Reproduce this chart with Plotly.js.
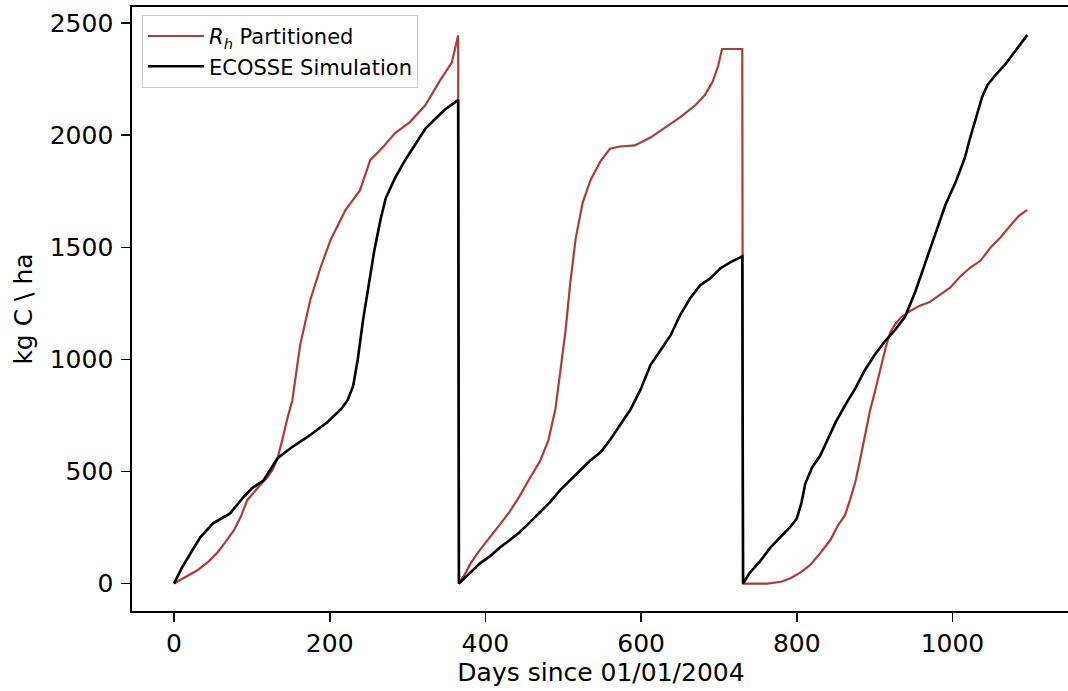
<!DOCTYPE html>
<html>
<head>
<meta charset="utf-8">
<script src="https://cdn.plot.ly/plotly-3.0.1.min.js"></script>
<style>
html,body{margin:0;padding:0;overflow:hidden;background:#fff;}
#chart{width:1072px;height:691px;}
</style>
</head>
<body>
<div id="chart"></div>
<script>
// R_h Partitioned (cumulative, resets each year)
const rhDays = [0,15,30,45,56,66,77,86,94,107,120,127,133,139,145,152,162,175,188,201,220,239,252,265,284,303,323,342,357,365,
  366,375,381,393,406,419,431,444,457,470,481,490,496,503,509,516,525,535,548,560,573,592,612,631,650,670,682,692,699,704,730,
  731,762,780,792,805,817,830,843,853,862,869,875,880,885,890,894,900,907,914,920,926,933,945,958,970,997,1010,1023,1036,1049,1062,1075,1085,1096];
const rhValues = [0,30,59,100,140,185,238,300,372,425,474,510,559,640,729,818,1064,1265,1408,1532,1665,1755,1889,1934,2010,2059,2135,2246,2326,2447,
  0,50,90,150,210,265,320,390,470,545,640,780,940,1130,1340,1540,1700,1800,1885,1940,1950,1955,1990,2035,2080,2135,2180,2240,2310,2385,2385,
  0,0,8,24,50,82,135,193,260,305,380,450,530,615,700,770,850,950,1050,1120,1155,1185,1215,1240,1255,1320,1370,1410,1440,1500,1545,1600,1640,1667];

// ECOSSE Simulation
const ecDays = [0,10,21,34,50,60,72,89,100,115,133,150,171,197,215,223,230,236,243,250,257,265,272,284,297,310,323,336,348,365,
  366,381,393,406,419,431,444,457,470,483,496,509,522,535,548,560,573,586,599,612,625,638,650,663,676,689,702,715,730,
  731,740,753,766,781,791,800,806,811,820,830,850,862,875,888,900,913,926,939,952,965,978,991,1004,1016,1022,1030,1038,1045,1055,1067,1080,1090,1096];
const ecValues = [0,70,134,207,269,290,313,385,425,461,559,605,653,720,780,818,880,1000,1180,1330,1480,1620,1720,1810,1890,1960,2030,2075,2115,2157,
  0,50,90,122,162,193,229,273,318,363,417,461,506,550,586,640,707,774,863,975,1041,1108,1197,1273,1331,1362,1407,1434,1460,
  0,50,100,160,215,250,290,360,446,520,570,720,795,870,955,1020,1080,1130,1190,1300,1430,1560,1690,1790,1900,1980,2080,2170,2225,2268,2313,2371,2420,2447];

const seriesNames = ['<i>R</i><sub><i>h</i></sub> Partitioned', 'ECOSSE Simulation'];
const xTicks = [0,200,400,600,800,1000];
const yTicks = [0,500,1000,1500,2000,2500];

const FONT = 'DejaVu Sans, sans-serif';
const traces = [
  {x: rhDays, y: rhValues, mode: 'lines', name: seriesNames[0],
   line: {color: '#a83e38', width: 2.2}},
  {x: ecDays, y: ecValues, mode: 'lines', name: seriesNames[1],
   line: {color: '#000000', width: 2.6}}
];

const layout = {
  width: 1072, height: 691,
  margin: {l: 132, r: 2, t: 7, b: 80},
  paper_bgcolor: '#ffffff', plot_bgcolor: '#ffffff',
  font: {family: FONT, size: 25, color: '#000'},
  showlegend: true,
  legend: {
    x: 0.0107, y: 0.987, xanchor: 'left', yanchor: 'top',
    bgcolor: 'rgba(255,255,255,0.8)', bordercolor: '#cccccc', borderwidth: 1,
    font: {family: FONT, size: 21, color: '#000'},
    itemwidth: 56,
    tracegroupgap: 0
  },
  xaxis: {
    range: [-54, 1151], tickvals: xTicks, ticktext: xTicks.map(String),
    showgrid: false, zeroline: false,
    showline: true, linecolor: '#000', linewidth: 1.7, mirror: true,
    ticks: 'outside', ticklen: 9, tickwidth: 1.7, tickcolor: '#000',
    ticklabelstandoff: 0,
    tickfont: {family: FONT, size: 25, color: '#000'},
    title: {text: 'Days since 01/01/2004', font: {family: FONT, size: 25, color: '#000'}, standoff: 1},
    automargin: false
  },
  yaxis: {
    range: [-122.5, 2572.5], tickvals: yTicks, ticktext: yTicks.map(String),
    showgrid: false, zeroline: false,
    showline: true, linecolor: '#000', linewidth: 1.7, mirror: true,
    ticks: 'outside', ticklen: 9, tickwidth: 1.7, tickcolor: '#000',
    ticklabelstandoff: 3,
    tickfont: {family: FONT, size: 25, color: '#000'},
    title: {text: 'kg C \\ ha', font: {family: FONT, size: 25, color: '#000'}, standoff: 10},
    automargin: false
  }
};

Plotly.newPlot('chart', traces, layout, {displayModeBar: false, staticPlot: true});
</script>
</body>
</html>
